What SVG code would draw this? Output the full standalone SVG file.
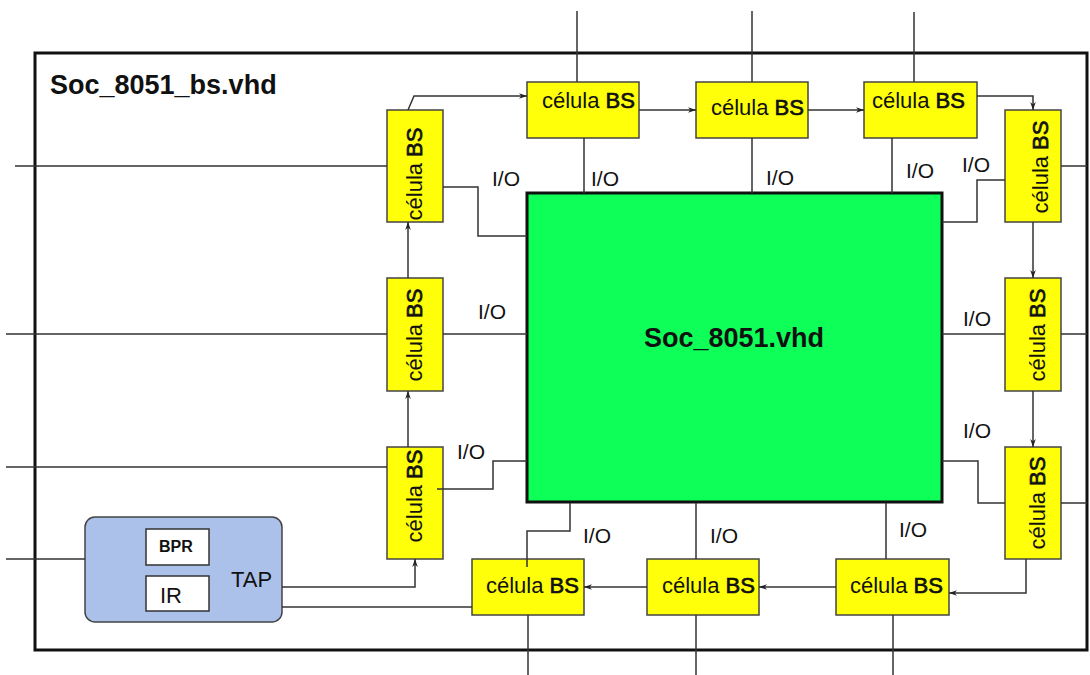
<svg xmlns="http://www.w3.org/2000/svg" width="1090" height="675" viewBox="0 0 1090 675">
<defs>
<style>
.frame{fill:none;stroke:#111;stroke-width:3}
.core{fill:#0dff58;stroke:#111;stroke-width:3}
.cell{fill:#ffff0a;stroke:#444;stroke-width:1.5}
.tap{fill:#abc1ea;stroke:#444;stroke-width:1.5}
.reg{fill:#fff;stroke:#333;stroke-width:1.5}
.w{fill:none;stroke:#333;stroke-width:1.5}
.t{font-family:"Liberation Sans",Arial,sans-serif;fill:#111}
.cl{font-size:22px}
.io{font-size:21px}
.b{font-weight:bold}
.m{stroke:#111;stroke-width:0.7}
</style>
<marker id="ar" markerUnits="userSpaceOnUse" markerWidth="8" markerHeight="8" viewBox="0 0 10 10" refX="10" refY="5" orient="auto">
<path d="M0,1.5 L10,5 L0,8.5 L3,5 Z" fill="#222"/>
</marker>
</defs>
<rect width="1090" height="675" fill="#fff"/>
<rect class="frame" x="35" y="53" width="1052" height="597"/>
<text class="t b" x="50" y="94" font-size="27">Soc_8051_bs.vhd</text>

<g id="core">
<rect class="core" x="527" y="193" width="415" height="309"/>
<text class="t b" x="734" y="347" font-size="27" text-anchor="middle">Soc_8051.vhd</text>
</g>

<g id="tap">
<rect class="tap" x="85" y="517" width="197" height="105" rx="10"/>
<rect class="reg" x="146" y="529" width="63" height="36"/>
<text class="t b" x="159" y="552" font-size="16">BPR</text>
<rect class="reg" x="146" y="576" width="63" height="35"/>
<text class="t" x="160" y="603" font-size="22">IR</text>
<text class="t" x="231" y="587" font-size="22">TAP</text>
</g>

<g id="cell-left1">
<rect class="cell" x="387" y="110" width="56" height="112"/>
<text class="t cl" transform="translate(422,174) rotate(-90)" text-anchor="middle">célula <tspan class="m">BS</tspan></text>
</g>
<g id="cell-left2">
<rect class="cell" x="387" y="278" width="56" height="113"/>
<text class="t cl" transform="translate(422,335) rotate(-90)" text-anchor="middle">célula <tspan class="m">BS</tspan></text>
</g>
<g id="cell-left3">
<rect class="cell" x="387" y="447" width="56" height="112"/>
<text class="t cl" transform="translate(422,496) rotate(-90)" text-anchor="middle">célula <tspan class="m">BS</tspan></text>
</g>
<g id="cell-top1">
<rect class="cell" x="527" y="82" width="112" height="56"/>
<text class="t cl" x="542" y="108">célula <tspan class="m">BS</tspan></text>
</g>
<g id="cell-top2">
<rect class="cell" x="696" y="82" width="112" height="56"/>
<text class="t cl" x="711" y="115">célula <tspan class="m">BS</tspan></text>
</g>
<g id="cell-top3">
<rect class="cell" x="864" y="82" width="113" height="56"/>
<text class="t cl" x="872" y="108">célula <tspan class="m">BS</tspan></text>
</g>
<g id="cell-right1">
<rect class="cell" x="1005" y="110" width="56" height="112"/>
<text class="t cl" transform="translate(1048,167) rotate(-90)" text-anchor="middle">célula <tspan class="m">BS</tspan></text>
</g>
<g id="cell-right2">
<rect class="cell" x="1005" y="278" width="56" height="113"/>
<text class="t cl" transform="translate(1045,335) rotate(-90)" text-anchor="middle">célula <tspan class="m">BS</tspan></text>
</g>
<g id="cell-right3">
<rect class="cell" x="1005" y="447" width="56" height="112"/>
<text class="t cl" transform="translate(1045,503) rotate(-90)" text-anchor="middle">célula <tspan class="m">BS</tspan></text>
</g>
<g id="cell-bottom1">
<rect class="cell" x="472" y="559" width="112" height="56"/>
<text class="t cl" x="486" y="593">célula <tspan class="m">BS</tspan></text>
</g>
<g id="cell-bottom2">
<rect class="cell" x="647" y="559" width="112" height="56"/>
<text class="t cl" x="662" y="593">célula <tspan class="m">BS</tspan></text>
</g>
<g id="cell-bottom3">
<rect class="cell" x="836" y="559" width="113" height="56"/>
<text class="t cl" x="850" y="593">célula <tspan class="m">BS</tspan></text>
</g>

<g id="connectors">
<path class="w" d="M577,11 V82 M752,11 V82 M914,12 V82"/>
<path class="w" d="M15,166 H387 M6,334 H387 M6,467 H387 M6,559 H85"/>
<path class="w" d="M1061,166 H1087 M1061,334 H1087 M1061,503 H1087"/>
<path class="w" d="M528,615 V675 M696,615 V675 M893,615 V675"/>
<path class="w" d="M443,187 H478 V236 H527"/>
<path class="w" d="M443,334 H527"/>
<path class="w" d="M437,489 H493 V461 H527"/>
<path class="w" d="M584,138 V193 M752,138 V193 M892,138 V193"/>
<path class="w" d="M1005,180 H977 V222 H942"/>
<path class="w" d="M942,334 H1005"/>
<path class="w" d="M942,461 H978 V503 H1005"/>
<path class="w" d="M570,503 V531 H527 V567"/>
<path class="w" d="M696,503 V559 M886,503 V559"/>
<path class="w" d="M282,587 H415 V559" marker-end="url(#ar)"/>
<path class="w" d="M408,447 V391" marker-end="url(#ar)"/>
<path class="w" d="M408,278 V222" marker-end="url(#ar)"/>
<path class="w" d="M408,110 L414,96 H527" marker-end="url(#ar)"/>
<path class="w" d="M639,110 H696" marker-end="url(#ar)"/>
<path class="w" d="M808,110 H864" marker-end="url(#ar)"/>
<path class="w" d="M977,96 H1033 V110" marker-end="url(#ar)"/>
<path class="w" d="M1033,222 V278" marker-end="url(#ar)"/>
<path class="w" d="M1033,391 V447" marker-end="url(#ar)"/>
<path class="w" d="M1026,559 V593 H949" marker-end="url(#ar)"/>
<path class="w" d="M836,587 H759" marker-end="url(#ar)"/>
<path class="w" d="M647,587 H584" marker-end="url(#ar)"/>
<path class="w" d="M282,607 H472"/>
</g>

<g id="io-labels" class="t io">
<text x="492" y="186">I/O</text>
<text x="591" y="186">I/O</text>
<text x="766" y="185">I/O</text>
<text x="906" y="178">I/O</text>
<text x="962" y="172">I/O</text>
<text x="478" y="319">I/O</text>
<text x="963" y="326">I/O</text>
<text x="457" y="459">I/O</text>
<text x="963" y="438">I/O</text>
<text x="583" y="543">I/O</text>
<text x="710" y="543">I/O</text>
<text x="899" y="537">I/O</text>
</g>
</svg>
